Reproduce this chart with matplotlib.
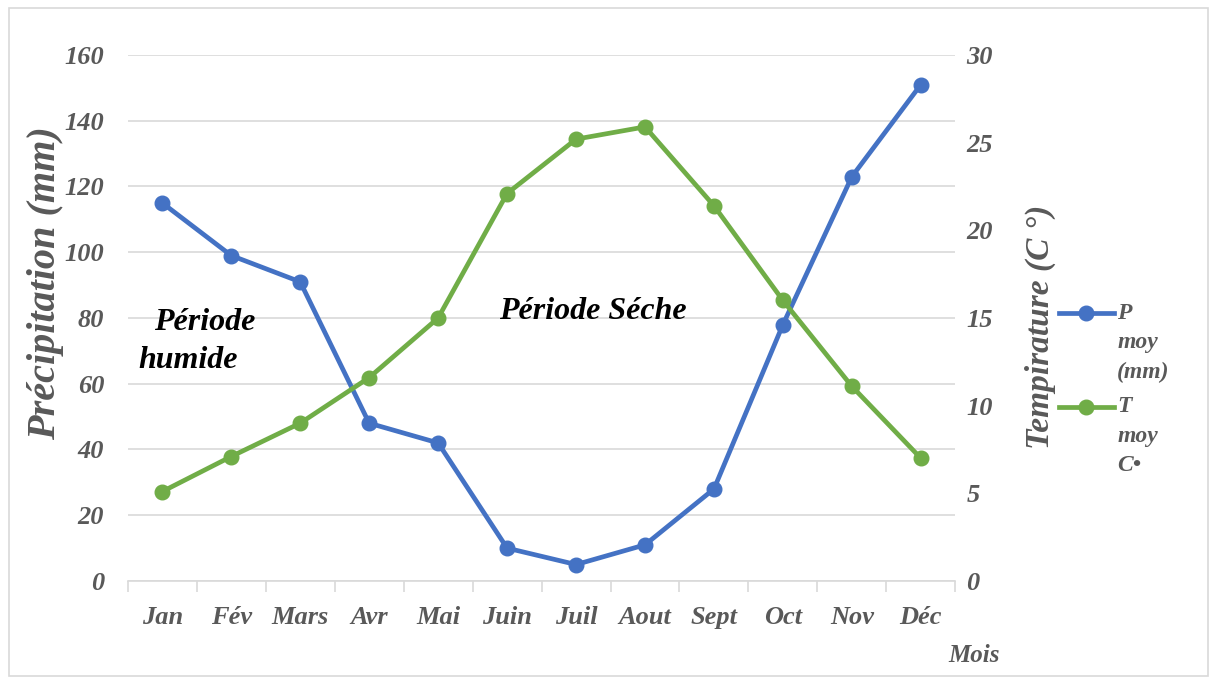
import matplotlib.pyplot as plt
from matplotlib.lines import Line2D
from matplotlib.patches import Rectangle

months = ['Jan', 'Fév', 'Mars', 'Avr', 'Mai', 'Juin', 'Juil', 'Aout', 'Sept', 'Oct', 'Nov', 'Déc']
precip = [115, 99, 91, 48, 42, 10, 5, 11, 28, 78, 123, 151]
temp = [5.1, 7.1, 9.0, 11.6, 15.0, 22.1, 25.2, 25.9, 21.4, 16.0, 11.1, 7.0]
legend_labels = [['P', 'moy', '(mm)'], ['T', 'moy', 'C•']]

blue = '#4472C4'
green = '#70AD47'
gray = '#595959'
font = dict(family='Liberation Serif', weight='bold', style='italic')

fig = plt.figure(figsize=(12.17, 6.84), dpi=100)
ax = fig.add_axes([0.105, 0.1506, 0.68, 0.769])
ax2 = ax.twinx()

x = range(len(months))
ax.plot(x, precip, color=blue, lw=3.4, marker='o', ms=10.5, zorder=3)
ax2.plot(x, temp, color=green, lw=3.4, marker='o', ms=10.5, zorder=3)

ax.set_xlim(-0.5, 11.5)
ax.set_ylim(0, 160)
ax2.set_ylim(0, 30)
ax.set_yticks(range(0, 161, 20))
ax2.set_yticks(range(0, 31, 5))
ax.set_xticks(list(x))
ax.set_xticklabels(months)
ax.set_xticks([i - 0.5 for i in range(13)], minor=True)
ax.tick_params(axis='x', which='major', length=0, pad=18)
ax.tick_params(axis='x', which='minor', length=8, color='#d9d9d9', width=1.2)
ax.tick_params(axis='y', length=0, pad=17)
ax2.tick_params(axis='y', length=0, pad=8)
ax.grid(axis='y', color='#d9d9d9', lw=1.2)
ax.set_axisbelow(True)

for a in (ax, ax2):
    for s in a.spines.values():
        s.set_visible(False)
ax.spines['bottom'].set_visible(True)
ax.spines['bottom'].set_color('#d9d9d9')
ax.spines['bottom'].set_linewidth(1.2)

for lab in ax.get_xticklabels() + ax.get_yticklabels() + ax2.get_yticklabels():
    lab.set_fontfamily(font['family'])
    lab.set_fontweight('bold')
    lab.set_fontstyle('italic')
    lab.set_fontsize(19)
    lab.set_color(gray)

fig.text(0.037, 0.586, 'Précipitation (mm)', fontsize=29, color=gray, rotation=90,
         ha='center', va='center', **font)
fig.text(0.855, 0.522, 'Tempirature (C °)', fontsize=24, color=gray, rotation=90,
         ha='center', va='center', **font)

ax.text(0.62, 78.5, 'Période', fontsize=23, color='black', ha='center', va='center', **font)
ax.text(0.37, 67.2, 'humide', fontsize=23, color='black', ha='center', va='center', **font)
ax.text(6.25, 82, 'Période Séche', fontsize=23, color='black', ha='center', va='center', **font)

fig.text(0.80, 0.042, 'Mois', fontsize=18, color=gray, ha='center', va='center', **font)

# legend drawn by hand so the handle sits on the first line of the label
for i, (col, lines) in enumerate(zip([blue, green], legend_labels)):
    y0 = 0.542 - i * 0.137
    fig.add_artist(Line2D([0.870, 0.915], [y0, y0], color=col, lw=3.4,
                          transform=fig.transFigure))
    fig.add_artist(Line2D([0.8925], [y0], color=col, marker='o', ms=10.5,
                          transform=fig.transFigure))
    for j, t in enumerate(lines):
        fig.text(0.918, y0 - j * 0.043, t, fontsize=17, color=gray,
                 ha='left', va='center', **font)

fig.patches.append(Rectangle((0.007, 0.012), 0.986, 0.976, transform=fig.transFigure,
                             fill=False, edgecolor='#d9d9d9', lw=1.2))

fig.savefig('out.png', dpi=100)
